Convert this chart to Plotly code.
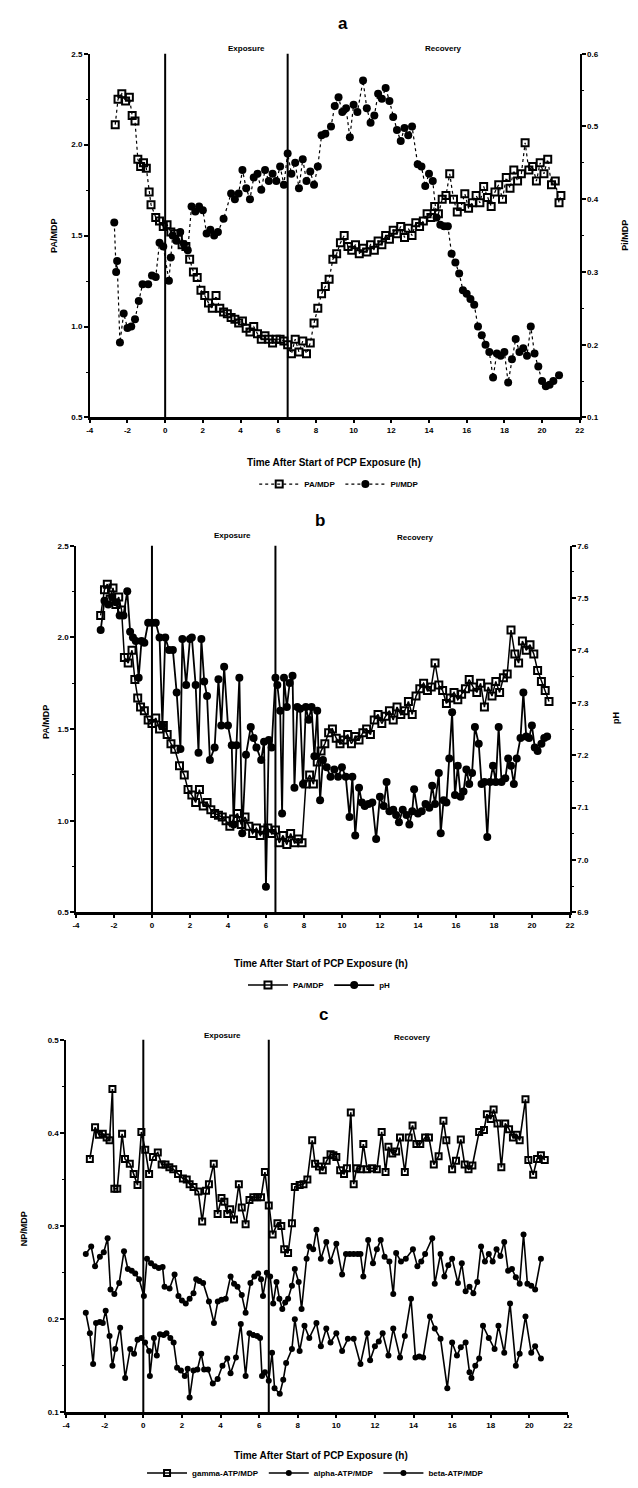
import plotly.graph_objects as go

W, H = 638, 1488

# ---------------- Panel a data ----------------
time_a_pa = [-2.65, -2.5, -2.3, -2.1, -1.9, -1.75, -1.6, -1.45, -1.3, -1.15, -1.0, -0.85, -0.75, -0.5, -0.3, -0.1,
             0.1, 0.3, 0.5, 0.7, 0.9, 1.1, 1.3, 1.5, 1.7, 1.9,
             2.1, 2.3, 2.5, 2.7, 2.9, 3.1, 3.3, 3.5, 3.7, 3.9,
             4.1, 4.3, 4.5, 4.7, 4.9, 5.1, 5.3, 5.5, 5.7, 5.9,
             6.1, 6.3, 6.5, 6.7, 6.9, 7.1, 7.3, 7.5, 7.7, 7.9,
             8.1, 8.3, 8.5, 8.7, 8.9, 9.1, 9.3, 9.5, 9.7, 9.9,
             10.1, 10.3, 10.5, 10.7, 10.9, 11.1, 11.3, 11.5, 11.7, 11.9,
             12.1, 12.3, 12.5, 12.7, 12.9, 13.1, 13.3, 13.5, 13.7, 13.9,
             14.1, 14.3, 14.5, 14.7, 14.9, 15.1, 15.3, 15.5, 15.7, 15.9,
             16.1, 16.3, 16.5, 16.7, 16.9, 17.1, 17.3, 17.5, 17.7, 17.9,
             18.1, 18.3, 18.5, 18.7, 18.9, 19.1, 19.3, 19.5, 19.7, 19.9,
             20.1, 20.3, 20.5, 20.7, 20.9, 21.0]
pa_a = [2.11, 2.25, 2.28, 2.24, 2.26, 2.16, 2.13, 1.92, 1.88, 1.90, 1.87, 1.74, 1.67, 1.60, 1.58, 1.55,
        1.56, 1.52, 1.51, 1.48, 1.45, 1.44, 1.37, 1.30, 1.27, 1.20,
        1.17, 1.13, 1.10, 1.17, 1.10, 1.08, 1.07, 1.05, 1.04, 1.02,
        1.03, 0.99, 0.97, 1.00, 0.96, 0.93, 0.95, 0.93, 0.91, 0.93,
        0.93, 0.92, 0.90, 0.85, 0.93, 0.86, 0.92, 0.85, 0.91, 1.02,
        1.10, 1.18, 1.22, 1.26, 1.37, 1.40, 1.46, 1.50, 1.44, 1.42,
        1.45, 1.40, 1.43, 1.41, 1.45, 1.42, 1.47, 1.45, 1.50, 1.48,
        1.53, 1.51, 1.55, 1.49, 1.54, 1.50, 1.57, 1.55, 1.58, 1.62,
        1.60, 1.66, 1.62, 1.70, 1.72, 1.84, 1.70, 1.63, 1.66, 1.73,
        1.65, 1.68, 1.72, 1.68, 1.77, 1.71, 1.66, 1.74, 1.78, 1.70,
        1.82, 1.76, 1.86, 1.80, 1.84, 2.01, 1.86, 1.88, 1.80, 1.90,
        1.84, 1.92, 1.78, 1.80, 1.68, 1.72]

time_a_pi = [-2.7, -2.6, -2.55, -2.4, -2.2, -2.0, -1.8, -1.6, -1.4, -1.2, -0.9, -0.7, -0.5, -0.3, -0.1,
             0.2, 0.3, 0.4,
             0.6, 0.8, 1.0, 1.2, 1.4, 1.6, 1.8, 2.0, 2.2, 2.4, 2.6, 2.8,
             3.1,
             3.5, 3.7, 3.9, 4.1, 4.3, 4.5, 4.7, 4.9, 5.1, 5.3, 5.5, 5.7, 5.9, 6.1, 6.3, 6.5, 6.7, 6.9,
             7.1, 7.3, 7.5, 7.7, 7.9, 8.1, 8.3, 8.5,
             8.8,
             9.0, 9.2, 9.4, 9.6, 9.8, 10.0, 10.2,
             10.5, 10.7, 10.9, 11.1, 11.3, 11.5, 11.7, 11.9, 12.1, 12.3, 12.5, 12.7, 12.9, 13.1,
             13.4, 13.6, 13.8, 14.0, 14.2, 14.4, 14.6, 14.8, 15.0, 15.2, 15.4, 15.6, 15.8, 16.0,
             16.2, 16.4, 16.6, 16.8, 17.0, 17.2, 17.4, 17.6, 17.8, 18.0, 18.2, 18.4, 18.6, 18.8,
             19.0, 19.2, 19.4, 19.6, 19.8, 20.0, 20.2, 20.4, 20.6,
             20.9]
pi_a = [0.368, 0.300, 0.315, 0.203, 0.243, 0.223, 0.225, 0.235, 0.260, 0.283, 0.283, 0.295, 0.293, 0.340, 0.335,
        0.288, 0.320, 0.350,
        0.343, 0.355, 0.338, 0.330, 0.390, 0.383, 0.390, 0.385, 0.353, 0.358, 0.350, 0.355,
        0.373,
        0.408, 0.400, 0.408, 0.440, 0.415, 0.400, 0.430, 0.435, 0.413, 0.440, 0.425, 0.435, 0.425, 0.445, 0.420,
        0.463, 0.435, 0.450, 0.415, 0.455, 0.425, 0.438, 0.420, 0.445, 0.488, 0.490,
        0.500,
        0.528, 0.540, 0.520, 0.525, 0.485, 0.530, 0.520,
        0.563, 0.525, 0.505, 0.515, 0.545, 0.538, 0.553, 0.535, 0.513, 0.495, 0.480, 0.498, 0.488, 0.500,
        0.448, 0.445, 0.418, 0.435, 0.425, 0.375, 0.365, 0.363, 0.363, 0.325, 0.313, 0.298, 0.275, 0.270,
        0.263, 0.255, 0.225, 0.213, 0.200, 0.190, 0.155, 0.188, 0.185, 0.190, 0.148, 0.180, 0.208, 0.190,
        0.195, 0.185, 0.225, 0.188, 0.170, 0.150, 0.143, 0.145, 0.150,
        0.158]

# ---------------- Panel b data ----------------
time_b_pa = [-2.7, -2.5, -2.35, -2.2, -2.05, -1.9, -1.75, -1.6, -1.45, -1.25, -1.05, -0.9, -0.75, -0.6, -0.4,
             -0.2, 0.0, 0.2, 0.4, 0.6, 0.8, 1.0, 1.2, 1.45, 1.7, 1.9,
             2.1, 2.3, 2.5, 2.7, 2.9, 3.1, 3.3, 3.5, 3.7, 3.9,
             4.1, 4.3, 4.5, 4.7, 4.9, 5.1, 5.3, 5.5, 5.7, 5.9,
             6.1, 6.3, 6.5, 6.7, 6.9, 7.1, 7.3, 7.5, 7.7, 7.9,
             8.1, 8.3, 8.5, 8.7, 8.9, 9.1, 9.3, 9.5, 9.7, 9.9,
             10.1, 10.3, 10.5, 10.7, 10.9, 11.1, 11.3, 11.5, 11.7, 11.9,
             12.1, 12.3, 12.5, 12.7, 12.9, 13.1, 13.3, 13.5, 13.7, 13.9,
             14.1, 14.3, 14.5, 14.7, 14.9, 15.1, 15.3, 15.5, 15.7, 15.9,
             16.1, 16.3, 16.5, 16.7, 16.9, 17.1, 17.3, 17.5, 17.7, 17.9,
             18.1, 18.3, 18.5, 18.7, 18.9, 19.1, 19.3, 19.5, 19.7, 19.9,
             20.1, 20.3, 20.5, 20.7, 20.9]
pa_b = [2.12, 2.26, 2.29, 2.21, 2.27, 2.18, 2.22, 2.15, 1.89, 1.86, 1.93, 1.77, 1.67, 1.62, 1.60,
        1.55, 1.53, 1.56, 1.50, 1.52, 1.47, 1.42, 1.39, 1.30, 1.25, 1.17,
        1.14, 1.10, 1.17, 1.08, 1.10, 1.06, 1.04, 1.03, 1.02, 1.00,
        0.97, 1.01, 1.04, 0.98, 1.02, 0.97, 0.93, 0.96, 0.92, 0.95,
        0.96, 0.93, 0.95, 0.88, 0.92, 0.87, 0.93, 0.88, 0.90, 0.88,
        1.20, 1.25, 1.20, 1.32, 1.38, 1.42, 1.48, 1.50, 1.45, 1.42,
        1.44, 1.47, 1.42, 1.46, 1.44, 1.48, 1.50, 1.47, 1.55, 1.58,
        1.53, 1.57, 1.60, 1.55, 1.62, 1.58, 1.60, 1.65, 1.58, 1.68,
        1.72, 1.75, 1.71, 1.73, 1.86, 1.74, 1.71, 1.64, 1.67, 1.70,
        1.66, 1.69, 1.72, 1.77, 1.73, 1.70, 1.75, 1.62, 1.73, 1.68,
        1.76, 1.70, 1.78, 1.80, 2.04, 1.91, 1.86, 1.98, 1.93, 1.96,
        1.91, 1.82, 1.76, 1.71, 1.65]

time_b_ph = [-2.7, -2.5, -2.3, -2.1, -1.9, -1.7, -1.5, -1.3, -1.15, -1.0,
             -0.85, -0.7, -0.55, -0.4, -0.2, 0.0, 0.2, 0.4, 0.55, 0.7,
             0.9, 1.1, 1.3, 1.5, 1.6, 1.8, 2.0, 2.1, 2.3, 2.45,
             2.6, 2.75, 2.9, 3.05, 3.3, 3.5, 3.65, 3.8, 4.0, 4.2,
             4.3, 4.45, 4.6, 4.75, 4.95, 5.2, 5.35, 5.5, 5.75, 5.9,
             6.0, 6.15, 6.3, 6.5, 6.6, 6.75, 6.85, 6.95, 7.1, 7.25,
             7.4, 7.5, 7.65, 7.8, 7.95, 8.1, 8.25, 8.4, 8.55, 8.7,
             8.85, 9.0, 9.2, 9.4, 9.6, 9.8, 10.0, 10.2, 10.4, 10.55,
             10.7, 10.9, 11.05, 11.2, 11.4, 11.6, 11.8, 12.0, 12.2, 12.35,
             12.5, 12.7, 12.85, 13.0, 13.2, 13.4, 13.55, 13.7, 13.8, 14.0,
             14.2, 14.4, 14.6, 14.75, 14.9, 15.1, 15.2, 15.35, 15.5, 15.65,
             15.8, 15.95, 16.1, 16.25, 16.4, 16.55, 16.7, 16.85, 17.0, 17.2,
             17.35, 17.5, 17.65, 17.8, 17.95, 18.1, 18.25, 18.4, 18.6, 18.75,
             18.9, 19.05, 19.2, 19.4, 19.55, 19.7, 19.85, 20.0, 20.15, 20.3,
             20.5, 20.65, 20.8]
ph_b = [7.439, 7.495, 7.488, 7.502, 7.492, 7.467, 7.467, 7.513, 7.436, 7.425,
        7.418, 7.348, 7.418, 7.415, 7.453, 7.453, 7.453, 7.425, 7.257, 7.425,
        7.401, 7.401, 7.320, 7.212, 7.422, 7.334, 7.422, 7.425, 7.334, 7.205,
        7.422, 7.341, 7.313, 7.191, 7.215, 7.345, 7.257, 7.369, 7.257, 7.219,
        7.068, 7.219, 7.348, 7.051, 7.201, 7.254, 7.233, 7.215, 7.191, 7.226,
        6.949, 7.229, 7.215, 7.348, 7.334, 7.285, 7.089, 7.348, 7.292, 7.338,
        7.352, 7.138, 7.292, 7.289, 7.145, 7.292, 7.268, 7.292, 7.198, 7.285,
        7.114, 7.191, 7.177, 7.159, 7.173, 7.159, 7.177, 7.159, 7.082, 7.159,
        7.047, 7.138, 7.110, 7.103, 7.107, 7.110, 7.040, 7.121, 7.103, 7.149,
        7.093, 7.096, 7.086, 7.072, 7.096, 7.086, 7.068, 7.093, 7.135, 7.089,
        7.093, 7.107, 7.100, 7.142, 7.107, 7.166, 7.051, 7.114, 7.110, 7.194,
        7.282, 7.124, 7.180, 7.121, 7.131, 7.173, 7.145, 7.166, 7.254, 7.222,
        7.145, 7.149, 7.044, 7.149, 7.180, 7.149, 7.254, 7.149, 7.156, 7.194,
        7.180, 7.145, 7.194, 7.233, 7.320, 7.236, 7.233, 7.257, 7.215, 7.208,
        7.222, 7.233, 7.236]

# ---------------- Panel c data ----------------
time_c_gamma = [-2.77, -2.5, -2.3, -2.1, -1.9, -1.75, -1.6, -1.5, -1.35, -1.1,
                -0.95, -0.7, -0.5, -0.3, -0.1, 0.1, 0.3, 0.5, 0.75, 0.95,
                1.15, 1.35, 1.55, 1.8, 2.05, 2.25, 2.4, 2.6, 2.85, 3.05,
                3.25, 3.4, 3.65, 3.85, 4.05, 4.2, 4.35, 4.5, 4.7, 4.95,
                5.1, 5.3, 5.5, 5.7, 5.9, 6.1, 6.3, 6.5, 6.7, 6.95,
                7.15, 7.3, 7.5, 7.7, 7.85, 8.1, 8.3, 8.5, 8.75, 8.9,
                9.1, 9.3, 9.5, 9.7, 9.85, 10.0, 10.2, 10.4, 10.55, 10.75,
                10.9, 11.05, 11.25, 11.4, 11.6, 11.85, 12.1, 12.35, 12.55, 12.7,
                12.9, 13.1, 13.3, 13.55, 13.75, 13.95, 14.15, 14.35, 14.6, 14.8,
                15.05, 15.3, 15.55, 15.7, 16.0, 16.2, 16.45, 16.65, 16.85, 17.05,
                17.4, 17.65, 17.8, 18.0, 18.15, 18.35, 18.55, 18.75, 18.95, 19.15,
                19.35, 19.5, 19.8, 19.95, 20.2, 20.4, 20.6, 20.8]
gamma_c = [0.372, 0.406, 0.398, 0.399, 0.395, 0.392, 0.447, 0.340, 0.340, 0.399,
           0.372, 0.367, 0.356, 0.344, 0.401, 0.382, 0.356, 0.374, 0.379, 0.366,
           0.366, 0.363, 0.361, 0.356, 0.351, 0.350, 0.345, 0.342, 0.337, 0.305,
           0.338, 0.345, 0.367, 0.313, 0.330, 0.326, 0.313, 0.318, 0.307, 0.345,
           0.320, 0.302, 0.328, 0.331, 0.331, 0.331, 0.358, 0.322, 0.291, 0.303,
           0.300, 0.275, 0.271, 0.303, 0.342, 0.344, 0.345, 0.350, 0.392, 0.367,
           0.364, 0.360, 0.370, 0.377, 0.376, 0.374, 0.360, 0.356, 0.362, 0.422,
           0.345, 0.362, 0.361, 0.388, 0.361, 0.362, 0.361, 0.401, 0.358, 0.385,
           0.378, 0.380, 0.395, 0.358, 0.395, 0.408, 0.388, 0.388, 0.395, 0.395,
           0.366, 0.375, 0.413, 0.392, 0.361, 0.370, 0.393, 0.366, 0.361, 0.365,
           0.401, 0.403, 0.420, 0.415, 0.425, 0.410, 0.363, 0.410, 0.404, 0.395,
           0.398, 0.392, 0.436, 0.371, 0.355, 0.372, 0.376, 0.371]

time_c_alpha = [-2.98, -2.7, -2.5, -2.25, -2.05, -1.85, -1.7, -1.5, -1.25, -1.0,
                -0.8, -0.6, -0.42, -0.22, 0.03, 0.19, 0.4, 0.6, 0.8, 1.0,
                1.1, 1.36, 1.62, 1.82, 2.0, 2.2, 2.4, 2.6, 2.74, 2.9,
                3.1, 3.4, 3.66, 3.86, 4.05, 4.27, 4.52, 4.7, 4.88, 5.1,
                5.3, 5.55, 5.75, 5.95, 6.1, 6.2, 6.4, 6.57, 6.73, 6.9,
                7.05, 7.2, 7.35, 7.5, 7.7, 7.85, 8.05, 8.2, 8.46, 8.6,
                8.8, 8.97, 9.2, 9.48, 9.7, 10.0, 10.3, 10.5, 10.7, 10.9,
                11.1, 11.25, 11.4, 11.65, 11.9, 12.1, 12.3, 12.5, 12.75, 12.95,
                13.1, 13.35, 13.6, 13.97, 14.2, 14.4, 14.6, 14.97, 15.1, 15.4,
                15.6, 15.8, 16.0, 16.3, 16.5, 16.7, 16.9, 17.1, 17.3, 17.5,
                17.7, 17.9, 18.1, 18.3, 18.5, 18.7, 18.9, 19.1, 19.3, 19.5,
                19.7, 19.9, 20.1, 20.3, 20.6]
alpha_c = [0.270, 0.278, 0.257, 0.267, 0.272, 0.287, 0.232, 0.227, 0.239, 0.273,
           0.254, 0.252, 0.249, 0.243, 0.225, 0.265, 0.260, 0.257, 0.255, 0.256,
           0.235, 0.233, 0.248, 0.225, 0.220, 0.217, 0.222, 0.228, 0.243, 0.241,
           0.239, 0.219, 0.196, 0.219, 0.221, 0.222, 0.246, 0.238, 0.235, 0.226,
           0.207, 0.239, 0.246, 0.249, 0.243, 0.225, 0.250, 0.246, 0.217, 0.240,
           0.222, 0.211, 0.218, 0.222, 0.236, 0.254, 0.240, 0.211, 0.265, 0.278,
           0.275, 0.296, 0.265, 0.283, 0.262, 0.281, 0.248, 0.270, 0.270, 0.270,
           0.270, 0.270, 0.246, 0.285, 0.260, 0.275, 0.285, 0.267, 0.262, 0.227,
           0.271, 0.262, 0.265, 0.275, 0.257, 0.262, 0.270, 0.287, 0.238, 0.270,
           0.246, 0.258, 0.265, 0.239, 0.260, 0.230, 0.235, 0.228, 0.240, 0.278,
           0.262, 0.270, 0.262, 0.275, 0.268, 0.283, 0.252, 0.254, 0.245, 0.238,
           0.291, 0.238, 0.236, 0.232, 0.265]

time_c_beta = [-2.98, -2.77, -2.6, -2.45, -2.25, -2.1, -1.95, -1.75, -1.6, -1.45,
               -1.2, -0.94, -0.68, -0.48, -0.3, -0.1, 0.09, 0.3, 0.34, 0.55,
               0.7, 0.86, 1.05, 1.2, 1.4, 1.57, 1.75, 1.95, 2.15, 2.3,
               2.4, 2.6, 2.8, 3.0, 3.15, 3.35, 3.6, 3.85, 4.1, 4.35,
               4.52, 4.8, 5.05, 5.3, 5.5, 5.7, 5.9, 6.05, 6.15, 6.3,
               6.5, 6.67, 6.8, 7.07, 7.25, 7.4, 7.7, 7.85, 8.1, 8.35,
               8.6, 8.97, 9.2, 9.48, 9.7, 10.0, 10.3, 10.6, 10.9, 11.25,
               11.6, 11.75, 12.0, 12.2, 12.4, 12.7, 12.95, 13.3, 13.55, 13.87,
               14.1, 14.3, 14.5, 14.85, 15.1, 15.4, 15.75, 16.0, 16.25, 16.45,
               16.7, 16.9, 17.0, 17.2, 17.4, 17.6, 17.9, 18.2, 18.4, 18.7,
               19.0, 19.3, 19.5, 19.8, 20.1, 20.3, 20.6]
beta_c = [0.207, 0.185, 0.152, 0.196, 0.197, 0.196, 0.209, 0.182, 0.150, 0.168,
          0.191, 0.137, 0.168, 0.163, 0.178, 0.180, 0.175, 0.166, 0.139, 0.180,
          0.161, 0.184, 0.183, 0.185, 0.180, 0.175, 0.148, 0.145, 0.139, 0.147,
          0.116, 0.145, 0.146, 0.163, 0.146, 0.146, 0.131, 0.136, 0.150, 0.158,
          0.142, 0.159, 0.195, 0.139, 0.185, 0.183, 0.182, 0.180, 0.139, 0.143,
          0.134, 0.164, 0.126, 0.120, 0.135, 0.153, 0.168, 0.200, 0.166, 0.193,
          0.180, 0.196, 0.171, 0.190, 0.175, 0.185, 0.166, 0.179, 0.179, 0.152,
          0.185, 0.156, 0.171, 0.176, 0.185, 0.161, 0.190, 0.159, 0.182, 0.222,
          0.159, 0.160, 0.159, 0.203, 0.190, 0.179, 0.126, 0.175, 0.161, 0.170,
          0.175, 0.143, 0.137, 0.150, 0.158, 0.193, 0.180, 0.168, 0.193, 0.164,
          0.217, 0.150, 0.163, 0.203, 0.164, 0.171, 0.158]

x_ticks = [-4, -2, 0, 2, 4, 6, 8, 10, 12, 14, 16, 18, 20, 22]
left_ticks_ab = [0.5, 1.0, 1.5, 2.0, 2.5]
right_ticks_a = [0.1, 0.2, 0.3, 0.4, 0.5, 0.6]
right_ticks_b = [6.9, 7.0, 7.1, 7.2, 7.3, 7.4, 7.5, 7.6]
left_ticks_c = [0.1, 0.2, 0.3, 0.4, 0.5]
phase_bounds = [0, 6.5]

FONT = "Liberation Sans"


def fx(p):
    return p / W


def fy(p):
    return 1 - p / H


fig = go.Figure()

# panel a traces
fig.add_trace(go.Scatter(x=time_a_pa, y=pa_a, mode="lines+markers", name="PA/MDP",
                         xaxis="x", yaxis="y", legend="legend",
                         line=dict(color="black", width=1.2, dash="dot"),
                         marker=dict(symbol="square-open", size=7, color="black", line=dict(width=2))))
fig.add_trace(go.Scatter(x=time_a_pi, y=pi_a, mode="lines+markers", name="Pi/MDP",
                         xaxis="x", yaxis="y2", legend="legend",
                         line=dict(color="black", width=1.2, dash="dot"),
                         marker=dict(symbol="circle", size=8, color="black")))

# panel b traces
fig.add_trace(go.Scatter(x=time_b_pa, y=pa_b, mode="lines+markers", name="PA/MDP",
                         xaxis="x2", yaxis="y3", legend="legend2",
                         line=dict(color="black", width=1.5),
                         marker=dict(symbol="square-open", size=7, color="black", line=dict(width=2))))
fig.add_trace(go.Scatter(x=time_b_ph, y=ph_b, mode="lines+markers", name="pH",
                         xaxis="x2", yaxis="y4", legend="legend2",
                         line=dict(color="black", width=1.8),
                         marker=dict(symbol="circle", size=8, color="black")))

# panel c traces
fig.add_trace(go.Scatter(x=time_c_gamma, y=gamma_c, mode="lines+markers", name="gamma-ATP/MDP",
                         xaxis="x3", yaxis="y5", legend="legend3",
                         line=dict(color="black", width=1.6),
                         marker=dict(symbol="square-open", size=6, color="black", line=dict(width=2))))
fig.add_trace(go.Scatter(x=time_c_alpha, y=alpha_c, mode="lines+markers", name="alpha-ATP/MDP",
                         xaxis="x3", yaxis="y5", legend="legend3",
                         line=dict(color="black", width=1.6),
                         marker=dict(symbol="circle", size=6, color="black")))
fig.add_trace(go.Scatter(x=time_c_beta, y=beta_c, mode="lines+markers", name="beta-ATP/MDP",
                         xaxis="x3", yaxis="y5", legend="legend3",
                         line=dict(color="black", width=1.6),
                         marker=dict(symbol="circle", size=6, color="black")))

tickfont = dict(family=FONT, size=8, color="black", weight="bold")


def xaxis(dom, anchor):
    return dict(domain=dom, anchor=anchor, range=[-4, 22], tickvals=x_ticks,
                ticktext=[str(t) for t in x_ticks], showline=True, linecolor="black",
                linewidth=3, ticks="outside", ticklen=3, tickwidth=1.5, tickcolor="black",
                showgrid=False, zeroline=False, tickfont=tickfont)


def yaxis(dom, anchor, rng, tv, minor, side="left", overlaying=None):
    d = dict(domain=dom, anchor=anchor, range=rng, tickvals=tv,
             ticktext=["%.1f" % v for v in tv], showline=True, linecolor="black",
             linewidth=1.5, ticks="outside", ticklen=4, tickwidth=1.5, tickcolor="black",
             showgrid=False, zeroline=False, tickfont=tickfont, side=side,
             minor=dict(ticks="outside", ticklen=2, tickwidth=1, tickcolor="black",
                        dtick=minor, tick0=rng[0], showgrid=False))
    if overlaying:
        d["overlaying"] = overlaying
    return d


xa = [fx(87), fx(584)]
ya = [fy(416), fy(50)]
xb = [fx(73), fx(574)]
yb = [fy(914), fy(545)]
xc = [fx(63), fx(572)]
yc = [fy(1417), fy(1042)]

legend_common = dict(orientation="h", xanchor="center", yanchor="middle",
                     font=dict(family=FONT, size=8, color="black", weight="bold"),
                     bgcolor="rgba(0,0,0,0)", itemwidth=40, entrywidth=0)

fig.update_layout(
    width=W, height=H, margin=dict(l=0, r=0, t=0, b=0),
    paper_bgcolor="white", plot_bgcolor="white", showlegend=True,
    xaxis=xaxis(xa, "y"),
    yaxis=yaxis(ya, "x", [0.5, 2.5], left_ticks_ab, 0.25),
    yaxis2=yaxis(ya, "x", [0.1, 0.6], right_ticks_a, 0.05, side="right", overlaying="y"),
    xaxis2=xaxis(xb, "y3"),
    yaxis3=yaxis(yb, "x2", [0.5, 2.5], left_ticks_ab, 0.25),
    yaxis4=yaxis(yb, "x2", [6.9, 7.6], right_ticks_b, 0.05, side="right", overlaying="y3"),
    xaxis3=xaxis(xc, "y5"),
    yaxis5=yaxis(yc, "x3", [0.1, 0.5], left_ticks_c, 0.05),
    legend=dict(legend_common, x=fx(340), y=fy(483)),
    legend2=dict(legend_common, x=fx(320), y=fy(987)),
    legend3=dict(legend_common, x=fx(316), y=fy(1478)),
)

# phase boundary lines
shapes = []
for xr, yr in [("x", "y"), ("x2", "y3"), ("x3", "y5")]:
    for xb_ in phase_bounds:
        shapes.append(dict(type="line", xref=xr, yref=yr + " domain", x0=xb_, x1=xb_, y0=0, y1=1.0,
                           line=dict(color="black", width=2)))
fig.update_layout(shapes=shapes)

ann = []


def text(x, y, s, size=9, angle=0, bold=True):
    ann.append(dict(x=fx(x), y=fy(y), xref="paper", yref="paper", text=s, showarrow=False,
                    textangle=angle, xanchor="center", yanchor="middle",
                    font=dict(family=FONT, size=size, color="black", weight="bold" if bold else "normal")))


# panel titles
text(344, 20, "a", 17)
text(321, 520, "b", 17)
text(324, 1017, "c", 17)
# phase labels
text(246, 45, "Exposure", 8)
text(446, 45, "Recovery", 8)
text(232, 535, "Exposure", 8)
text(417, 537, "Recovery", 8)
text(222, 1038, "Exposure", 8)
text(414, 1040, "Recovery", 8)
# axis titles
text(50, 233, "PA/MDP", 9, -90)
text(629, 233, "Pi/MDP", 9, -90)
text(335, 461, "Time After Start of PCP Exposure (h)", 10)
text(42, 722, "PA/MDP", 9, -90)
text(620, 718, "pH", 9, -90)
text(322, 965, "Time After Start of PCP Exposure (h)", 10)
text(20, 1232, "NP/MDP", 9, -90)
text(322, 1460, "Time After Start of PCP Exposure (h)", 10)
fig.update_layout(annotations=ann)

fig.write_html("out.html")
